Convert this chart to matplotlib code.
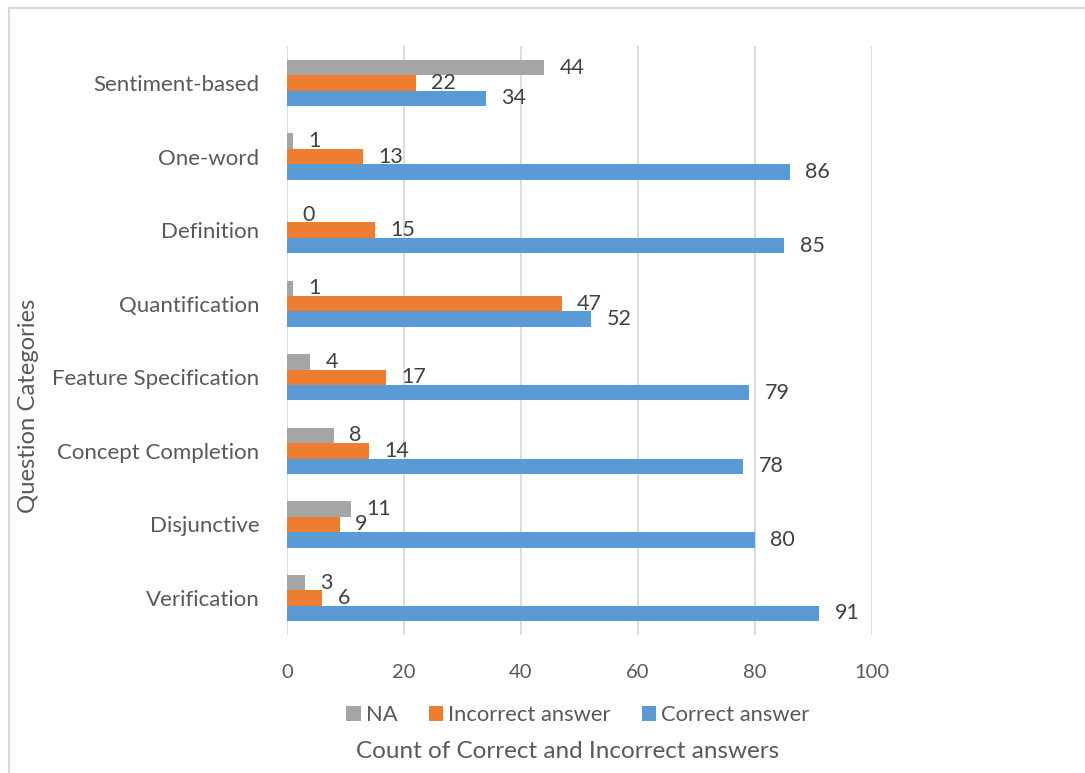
import matplotlib
matplotlib.use("Agg")
import matplotlib.pyplot as plt
from matplotlib.patches import Rectangle
import numpy as np

categories = ["Verification", "Disjunctive", "Concept Completion", "Feature Specification",
              "Quantification", "Definition", "One-word", "Sentiment-based"]
correct = [91, 80, 78, 79, 52, 85, 86, 34]
incorrect = [6, 9, 14, 17, 47, 15, 13, 22]
na = [3, 11, 8, 4, 1, 0, 1, 44]
xticks = [0, 20, 40, 60, 80, 100]

plt.rcParams['font.family'] = ['Lato', 'DejaVu Sans']
TXT = "#595959"
C_NA, C_INC, C_COR = "#a5a5a5", "#ed7d31", "#5b9bd5"

W, H = 1085, 773
fig = plt.figure(figsize=(W / 100, H / 100), dpi=100)
ax = fig.add_axes([287 / W, 1 - 634.8 / H, (872 - 287) / W, (634.8 - 46.2) / H])

y = np.arange(len(categories))
h = 0.21
series = [(na, C_NA, "NA", h), (incorrect, C_INC, "Incorrect answer", 0.0), (correct, C_COR, "Correct answer", -h)]
handles = []
for vals, col, lab, off in series:
    bars = ax.barh(y + off, vals, height=h, color=col, label=lab, zorder=3)
    handles.append(bars)
    for yi, v in zip(y + off, vals):
        ax.annotate(str(v), (v, yi), xytext=(11, 0), textcoords="offset points",
                    ha="left", va="center", fontsize=15.5, color="#404040", zorder=4)

ax.set_xlim(0, 100)
ax.set_ylim(-0.5, len(categories) - 0.5)
ax.set_xticks(xticks)
ax.set_xticklabels([str(t) for t in xticks])
ax.set_yticks(y)
ax.set_yticklabels(categories)
ax.tick_params(axis="both", length=0, labelcolor=TXT)
ax.tick_params(axis="x", pad=21, labelsize=14.5)
ax.tick_params(axis="y", pad=20, labelsize=16)
ax.grid(axis="x", color="#d9d9d9", linewidth=1.3, zorder=0)
for s in ax.spines.values():
    s.set_visible(False)

leg = fig.legend(handles=handles, labels=["NA", "Incorrect answer", "Correct answer"],
                 loc="center", bbox_to_anchor=(578 / W, 1 - 715 / H), ncol=3, frameon=False,
                 fontsize=15.8, handlelength=0.65, handleheight=0.65, handletextpad=0.25,
                 columnspacing=1.4)
for t in leg.get_texts():
    t.set_color(TXT)

fig.text(567.5 / W, 1 - 752 / H, "Count of Correct and Incorrect answers", ha="center", va="center",
         fontsize=17.5, color=TXT)
fig.text(29 / W, 1 - 406 / H, "Question Categories", ha="center", va="center", rotation=90,
         fontsize=17.2, color=TXT)

# outer chart frame
fig.patches.append(Rectangle((8.5 / W, -0.1), 1.2, 1 - 7.5 / H + 0.1, transform=fig.transFigure,
                             fill=False, edgecolor="#d9d9d9", linewidth=1.5))

fig.savefig("out.png", dpi=100)
